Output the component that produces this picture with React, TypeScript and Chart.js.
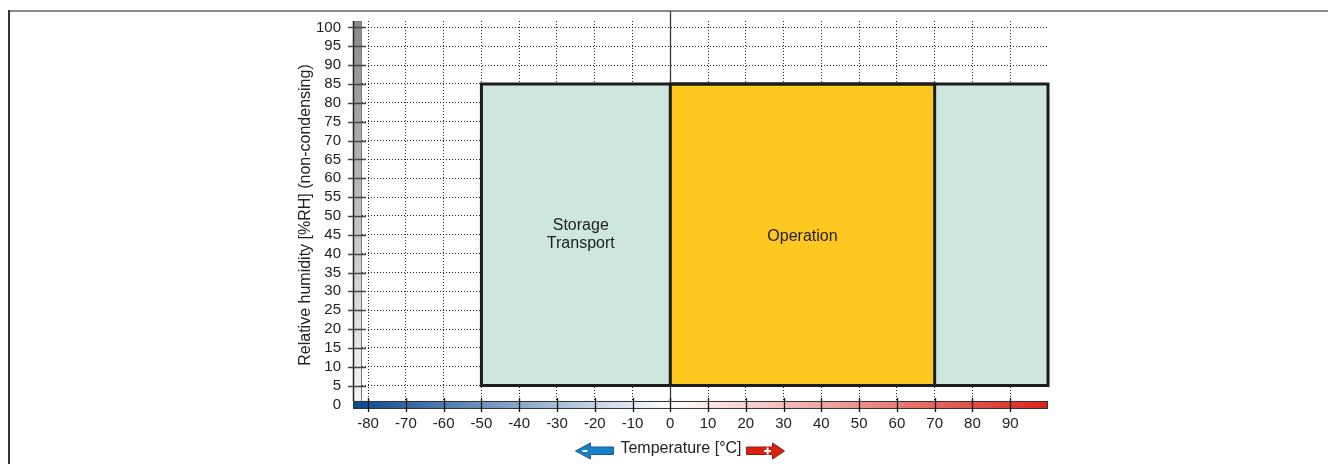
import React, { useEffect, useRef } from "react";
import { Chart, registerables } from "chart.js";

Chart.register(...registerables);

const FONT = "'Liberation Sans', Arial, Helvetica, sans-serif";

// ---- data ----
const xTicks = [-80, -70, -60, -50, -40, -30, -20, -10, 0, 10, 20, 30, 40, 50, 60, 70, 80, 90];
const yTicks = [0, 5, 10, 15, 20, 25, 30, 35, 40, 45, 50, 55, 60, 65, 70, 75, 80, 85, 90, 95, 100];
const xRange = [-84, 100];
const yRange = [-1.2, 101.7];
const storageTemp = [-50, 100];
const operationTemp = [0, 70];
const humidityRange = [5, 85];
const zoneNames = ["Storage\nTransport", "Operation"];
const zoneLabelX = [-23.7, 35];
const zoneLabelY = [45, 44.5];
const xTitle = "Temperature [°C]";
const yTitle = "Relative humidity [%RH] (non-condensing)";

const STORAGE_FILL = "#cde7df";
const OPERATION_FILL = "#fec820";
const BOX_BORDER = "#1c1c1c";
const TEXT = "#222222";

function rectPoints(t: number[], h: number[]) {
  return [
    { x: t[0], y: h[0] },
    { x: t[0], y: h[1] },
    { x: t[1], y: h[1] },
    { x: t[1], y: h[0] },
    { x: t[0], y: h[0] },
  ];
}

const decorPlugin = {
  id: "decor",
  beforeDraw(chart: any) {
    const ctx = chart.ctx as CanvasRenderingContext2D;
    ctx.save();
    ctx.fillStyle = "#ffffff";
    ctx.fillRect(0, 0, chart.width, chart.height);
    // frame
    ctx.strokeStyle = "#8a8a8a";
    ctx.lineWidth = 2;
    ctx.beginPath();
    ctx.moveTo(8, 11);
    ctx.lineTo(chart.width, 11);
    ctx.stroke();
    ctx.strokeStyle = "#333333";
    ctx.beginPath();
    ctx.moveTo(9, 10);
    ctx.lineTo(9, chart.height);
    ctx.stroke();
    ctx.restore();
  },
  beforeDatasetsDraw(chart: any) {
    const ctx = chart.ctx as CanvasRenderingContext2D;
    const { x, y } = chart.scales;
    const x0 = Math.round(x.getPixelForValue(0)) + 0.5;
    const y0 = y.getPixelForValue(0);
    ctx.save();
    ctx.strokeStyle = "#3a3a3a";
    ctx.lineWidth = 1.3;
    ctx.beginPath();
    ctx.moveTo(x0, 11);
    ctx.lineTo(x0, y0 - 3.5);
    ctx.stroke();
    ctx.restore();
  },
  afterDatasetsDraw(chart: any) {
    const ctx = chart.ctx as CanvasRenderingContext2D;
    const { x, y } = chart.scales;
    const area = chart.chartArea;
    const y0 = y.getPixelForValue(0);
    const barTop = y0 - 3.5;
    const barBot = y0 + 4.5;
    ctx.save();

    // vertical grey humidity bar
    const gx = area.left;
    const gw = 9;
    const gTop = area.top;
    const gg = ctx.createLinearGradient(0, gTop, 0, barTop);
    gg.addColorStop(0, "#8a8a8a");
    gg.addColorStop(1, "#f5f5f5");
    ctx.fillStyle = gg;
    ctx.fillRect(gx, gTop, gw, barTop - gTop);
    ctx.strokeStyle = "#7a7a7a";
    ctx.lineWidth = 1;
    ctx.strokeRect(gx + 0.5, gTop + 0.5, gw - 1, barTop - gTop);
    ctx.strokeStyle = "#222";
    ctx.lineWidth = 1.5;
    ctx.beginPath();
    ctx.moveTo(gx + 0.5, gTop);
    ctx.lineTo(gx + 0.5, barTop);
    ctx.stroke();

    // y tick marks
    ctx.strokeStyle = "#444";
    ctx.lineWidth = 1.5;
    yTicks.forEach((v) => {
      if (v === 0) return;
      const py = Math.round(y.getPixelForValue(v)) + 0.5;
      ctx.beginPath();
      ctx.moveTo(gx - 5, py);
      ctx.lineTo(gx + 13, py);
      ctx.stroke();
    });

    // temperature colour bar
    const left = x.getPixelForValue(xRange[0]);
    const right = x.getPixelForValue(xRange[1]);
    const cg = ctx.createLinearGradient(left, 0, right, 0);
    const zeroPos = (0 - xRange[0]) / (xRange[1] - xRange[0]);
    cg.addColorStop(0, "#0b4790");
    cg.addColorStop(zeroPos, "#ffffff");
    cg.addColorStop(1, "#d9241b");
    ctx.fillStyle = cg;
    ctx.fillRect(left, barTop, right - left, barBot - barTop);
    ctx.strokeStyle = "#333";
    ctx.lineWidth = 1;
    ctx.strokeRect(left + 0.5, barTop + 0.5, right - left - 1, barBot - barTop - 1);

    // x tick marks
    ctx.strokeStyle = "#111";
    ctx.lineWidth = 1.3;
    xTicks.forEach((v) => {
      const px = Math.round(x.getPixelForValue(v)) + 0.5;
      ctx.beginPath();
      ctx.moveTo(px, barTop - 3);
      ctx.lineTo(px, barBot + 3);
      ctx.stroke();
    });

    // zone labels
    ctx.fillStyle = TEXT;
    ctx.font = `16px ${FONT}`;
    ctx.textAlign = "center";
    ctx.textBaseline = "middle";
    zoneNames.forEach((name, i) => {
      const lines = name.split("\n");
      const cx = x.getPixelForValue(zoneLabelX[i]);
      const cy = y.getPixelForValue(zoneLabelY[i]);
      const lh = 18;
      lines.forEach((ln, j) => {
        ctx.fillText(ln, cx, cy + (j - (lines.length - 1) / 2) * lh);
      });
    });

    // x title with arrows
    const tx = 681;
    const ty = 448.5;
    ctx.fillText(xTitle, tx, ty);
    const tw = ctx.measureText(xTitle).width;
    const tl = tx - tw / 2;
    const tr = tx + tw / 2;

    // blue arrow (left)
    const bRight = tl - 7;
    const bTip = bRight - 38;
    const bHead = bTip + 15;
    ctx.beginPath();
    ctx.moveTo(bTip, ty + 2.5);
    ctx.lineTo(bHead, ty - 5.5);
    ctx.lineTo(bHead, ty - 1.5);
    ctx.lineTo(bRight, ty - 1.5);
    ctx.lineTo(bRight, ty + 6);
    ctx.lineTo(bHead, ty + 6);
    ctx.lineTo(bHead, ty + 10.5);
    ctx.closePath();
    ctx.fillStyle = "#1a80c6";
    ctx.fill();
    ctx.strokeStyle = "#185a8e";
    ctx.lineWidth = 1;
    ctx.stroke();
    ctx.strokeStyle = "#ffffff";
    ctx.lineWidth = 2;
    ctx.beginPath();
    ctx.moveTo(bTip + 7, ty + 2.5);
    ctx.lineTo(bTip + 12, ty + 2.5);
    ctx.stroke();

    // red arrow (right)
    const rLeft = tr + 5;
    const rHead = rLeft + 26;
    const rTip = rLeft + 38;
    ctx.beginPath();
    ctx.moveTo(rLeft, ty - 1.5);
    ctx.lineTo(rHead, ty - 1.5);
    ctx.lineTo(rHead, ty - 5.5);
    ctx.lineTo(rTip, ty + 2.5);
    ctx.lineTo(rHead, ty + 10.5);
    ctx.lineTo(rHead, ty + 6);
    ctx.lineTo(rLeft, ty + 6);
    ctx.closePath();
    ctx.fillStyle = "#d6220f";
    ctx.fill();
    ctx.strokeStyle = "#9c1a10";
    ctx.lineWidth = 1;
    ctx.stroke();
    ctx.strokeStyle = "#ffffff";
    ctx.lineWidth = 2;
    const pcx = rHead - 5;
    ctx.beginPath();
    ctx.moveTo(pcx - 3.5, ty + 2.5);
    ctx.lineTo(pcx + 3.5, ty + 2.5);
    ctx.moveTo(pcx, ty - 1);
    ctx.lineTo(pcx, ty + 6);
    ctx.stroke();

    ctx.restore();
  },
};

export default function App() {
  const ref = useRef<HTMLCanvasElement | null>(null);

  useEffect(() => {
    if (!ref.current) return;
    const fillDs = (t: number[], color: string, order: number) => ({
      type: "line" as const,
      data: [
        { x: t[0], y: humidityRange[1] },
        { x: t[1], y: humidityRange[1] },
      ],
      showLine: true,
      borderWidth: 0,
      borderColor: "rgba(0,0,0,0)",
      backgroundColor: color,
      fill: { value: humidityRange[0] },
      pointRadius: 0,
      tension: 0,
      order,
      clip: false as any,
    });
    const outlineDs = (t: number[], order: number) => ({
      type: "line" as const,
      data: rectPoints(t, humidityRange),
      showLine: true,
      borderWidth: 3,
      borderColor: BOX_BORDER,
      borderJoinStyle: "miter" as const,
      borderCapStyle: "square" as const,
      fill: false,
      pointRadius: 0,
      tension: 0,
      order,
      clip: false as any,
    });

    const chart = new Chart(ref.current, {
      type: "scatter",
      data: {
        datasets: [
          fillDs(storageTemp, STORAGE_FILL, 4),
          fillDs(operationTemp, OPERATION_FILL, 3),
          outlineDs(storageTemp, 2),
          outlineDs(operationTemp, 1),
        ] as any,
      },
      options: {
        responsive: false,
        animation: false,
        devicePixelRatio: 1,
        layout: { padding: { left: 296, right: 280, top: 19, bottom: 0 } },
        plugins: {
          legend: { display: false },
          tooltip: { enabled: false },
        },
        scales: {
          x: {
            type: "linear",
            min: xRange[0],
            max: xRange[1],
            afterBuildTicks: (s: any) => {
              s.ticks = xTicks.map((v) => ({ value: v }));
            },
            afterFit: (s: any) => {
              s.height = 55;
            },
            grid: {
              color: "rgba(0,0,0,0.85)",
              lineWidth: 1,
              drawTicks: false,
            },
            border: { display: false, dash: [1, 2] },
            ticks: {
              color: TEXT,
              font: { family: FONT, size: 15 },
              padding: 6,
              maxRotation: 0,
              autoSkip: false,
              callback: (v: any) => String(v),
            },
          },
          y: {
            type: "linear",
            min: yRange[0],
            max: yRange[1],
            afterBuildTicks: (s: any) => {
              s.ticks = yTicks.map((v) => ({ value: v }));
            },
            afterFit: (s: any) => {
              s.width = 57;
            },
            grid: {
              color: "rgba(0,0,0,0.85)",
              lineWidth: 1,
              drawTicks: false,
            },
            border: { display: false, dash: [1, 2] },
            ticks: {
              color: TEXT,
              font: { family: FONT, size: 15 },
              padding: 12,
              autoSkip: false,
              callback: (v: any) => String(v),
            },
            title: {
              display: true,
              text: yTitle,
              color: TEXT,
              font: { family: FONT, size: 16 },
              padding: 0,
            },
          },
        },
      } as any,
      plugins: [decorPlugin],
    });
    return () => chart.destroy();
  }, []);

  return (
    <div style={{ position: "absolute", left: 0, top: 0, width: 1328, height: 464 }}>
      <canvas ref={ref} width={1328} height={464} style={{ display: "block", width: 1328, height: 464 }} />
    </div>
  );
}
